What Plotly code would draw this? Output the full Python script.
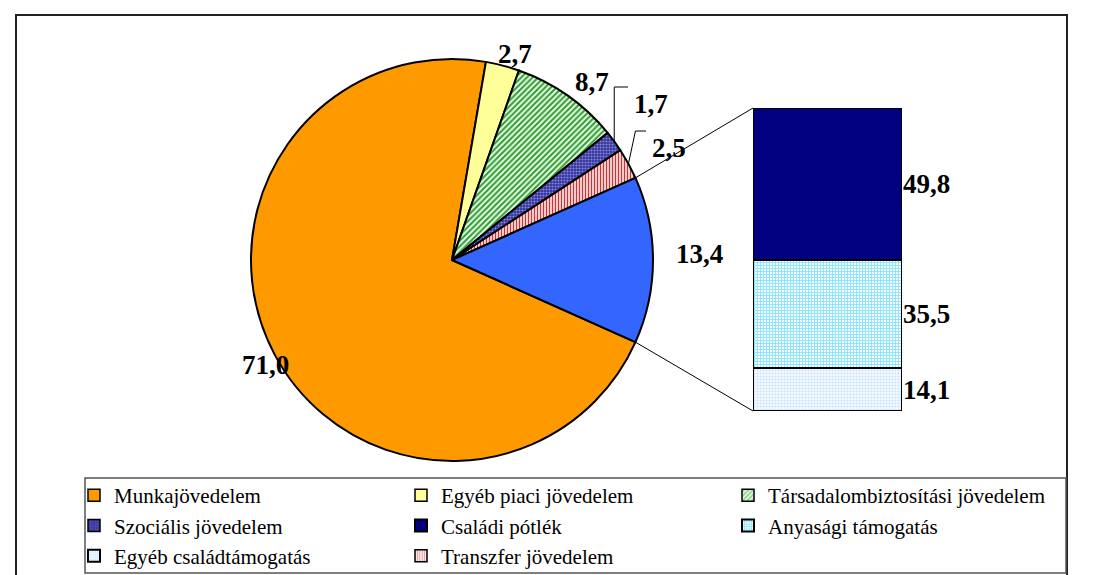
import math
import plotly.graph_objects as go

W, H = 1104, 575

# pie: income structure (%)
pie_labels = ['Munkajövedelem', 'Egyéb piaci jövedelem', 'Társadalombiztosítási jövedelem',
              'Szociális jövedelem', 'Transzfer jövedelem', 'Családtámogatás']
pie_values = [71.0, 2.7, 8.7, 1.7, 2.5, 13.4]
pie_text = ['71,0', '2,7', '8,7', '1,7', '2,5', '13,4']

# bar: breakdown of family support (%)
bar_labels = ['Egyéb családtámogatás', 'Anyasági támogatás', 'Családi pótlék']
bar_values = [14.1, 35.5, 49.8]
bar_text = ['14,1', '35,5', '49,8']

FONT = 'Liberation Serif'


def px(x, y):
    return x / W, 1 - y / H


# pie geometry in pixels
cx, cy, R = 444, 252, 201
blue_share = pie_values[-1] / sum(pie_values)
rotation = 90 + blue_share * 360 / 2  # centre last slice on 3 o'clock

pie_colors = ['#FF9900', '#FFFF99', '#CCFFCC', '#333399', '#FFFFFF', '#3366FF']
pie_patterns = [dict(shape=''), dict(shape=''),
                dict(shape='/', fgcolor='#339933', bgcolor='#E6FFE6', size=4, solidity=0.5),
                dict(shape='.', fgcolor='#8888DD', bgcolor='#333399', size=3, solidity=0.4),
                dict(shape='|', fgcolor='#CC3333', bgcolor='#FFFFFF', size=3, solidity=0.5),
                dict(shape='')]


def pattern_arrays(pats, colors):
    return dict(
        shape=[p['shape'] for p in pats],
        fgcolor=[p.get('fgcolor', c) for p, c in zip(pats, colors)],
        bgcolor=[p.get('bgcolor', c) for p, c in zip(pats, colors)],
        size=[p.get('size', 8) for p in pats],
        solidity=[p.get('solidity', 0.3) for p in pats],
    )


bar_colors = ['#FFFFFF', '#FFFFFF', '#000080']
bar_patterns = [dict(shape='.', fgcolor='#99CCFF', bgcolor='#FFFFFF', size=3, solidity=0.5),
                dict(shape='+', fgcolor='#22CCFF', bgcolor='#FFFFFF', size=3, solidity=0.6),
                dict(shape='')]

fig = go.Figure()

dx0, dy0 = px(cx - R, cy + R)
dx1, dy1 = px(cx + R, cy - R)
fig.add_trace(go.Pie(
    labels=pie_labels, values=pie_values, sort=False, direction='clockwise',
    rotation=rotation, textinfo='none', hoverinfo='label+value', showlegend=False,
    marker=dict(colors=pie_colors, pattern=pattern_arrays(pie_patterns, pie_colors),
                line=dict(color='black', width=2)),
    domain=dict(x=[dx0, dx1], y=[dy0, dy1]),
))

# legend order as in the original
legend_rank = {'Munkajövedelem': 1, 'Egyéb piaci jövedelem': 2, 'Társadalombiztosítási jövedelem': 3,
               'Szociális jövedelem': 4, 'Családi pótlék': 5, 'Anyasági támogatás': 6,
               'Egyéb családtámogatás': 7, 'Transzfer jövedelem': 8}

for lab, v, c, p in zip(bar_labels, bar_values, bar_colors, bar_patterns):
    fig.add_trace(go.Bar(
        x=[0], y=[v], name=lab, width=1, legendrank=legend_rank[lab], hoverinfo='name+y',
        marker=dict(color=c, pattern=p, line=dict(color='black', width=2)),
    ))

# legend-only entries for the pie slices
for lab, c, p in zip(pie_labels[:-1], pie_colors, pie_patterns):
    fig.add_trace(go.Bar(
        x=[None], y=[None], name=lab, legendrank=legend_rank[lab],
        marker=dict(color=c, pattern=p, line=dict(color='black', width=1.5)),
    ))

LABEL_FONT = dict(family=FONT, size=27, color='black', weight='bold')
ann = []
# pie value labels (pixel positions of the text centres)
label_pos = [(232, 357), (507, 29), (584, 57), (643, 79), (661, 123), (691, 246)]
for t, (lx, ly) in zip(pie_text, label_pos):
    x, y = px(lx, ly)
    ann.append(dict(x=x, y=y, xref='paper', yref='paper', text=t, showarrow=False,
                    font=LABEL_FONT))

# bar value labels
cum = 0
for t, v in zip(bar_text, bar_values):
    ann.append(dict(x=944 / W, y=cum + v / 2, xref='paper', yref='y', text=t, showarrow=False,
                    font=LABEL_FONT))
    cum += v

shapes = []
# leader lines for the small slices
cumv = 0
mids = []
for v in pie_values:
    mids.append(rotation + (cumv + v / 2) / sum(pie_values) * 360)
    cumv += v
for i, off in [(3, 0), (4, 7)]:
    a = math.radians(mids[i])
    ex, ey = cx + R * math.sin(a), cy - R * math.cos(a)
    lx, ly = label_pos[i]
    pts = [(ex, ey), (ex + off, ly), (lx - 23, ly)]
    for (x0, y0), (x1, y1) in zip(pts[:-1], pts[1:]):
        a0, b0 = px(x0, y0)
        a1, b1 = px(x1, y1)
        shapes.append(dict(type='line', xref='paper', yref='paper', x0=a0, y0=b0, x1=a1, y1=b1,
                           line=dict(color='black', width=1)))

# connector lines pie -> bar
bx_dom = [745 / W, 894 / W]
by_dom = [1 - 403 / H, 1 - 100 / H]
start = math.radians(rotation - blue_share * 360)
end = math.radians(rotation)
for ang, by in [(start, by_dom[1]), (end, by_dom[0])]:
    ex, ey = px(cx + R * math.sin(ang), cy - R * math.cos(ang))
    shapes.append(dict(type='line', xref='paper', yref='paper', x0=ex, y0=ey, x1=bx_dom[0], y1=by,
                       line=dict(color='black', width=1)))

# outer frame (bottom edge falls outside the picture)
fx0, fy0 = px(8, 590)
fx1, fy1 = px(1059, 7)
shapes.append(dict(type='rect', xref='paper', yref='paper', x0=fx0, y0=fy0, x1=fx1, y1=fy1,
                   line=dict(color='#222222', width=2)))

# legend box
gx0, gy0 = px(77, 565)
gx1, gy1 = px(1058, 470)
shapes.append(dict(type='rect', xref='paper', yref='paper', x0=gx0, y0=gy0, x1=gx1, y1=gy1,
                   line=dict(color='#555555', width=1.5)))

lx, ly = px(66, 467)
fig.update_layout(
    width=W, height=H,
    margin=dict(l=0, r=0, t=0, b=0),
    paper_bgcolor='white', plot_bgcolor='white',
    barmode='stack', bargap=0,
    xaxis=dict(domain=bx_dom, range=[-0.5, 0.5], visible=False, fixedrange=True),
    yaxis=dict(domain=by_dom, range=[0, sum(bar_values)], visible=False, fixedrange=True),
    legend=dict(orientation='h', x=lx, y=ly, xanchor='left', yanchor='top',
                entrywidth=282, entrywidthmode='pixels', traceorder='normal',
                borderwidth=0, bgcolor='rgba(0,0,0,0)',
                font=dict(family=FONT, size=21, color='black')),
    annotations=ann,
    shapes=shapes,
    font=dict(family=FONT),
    showlegend=True,
)

fig.write_html('out.html')
